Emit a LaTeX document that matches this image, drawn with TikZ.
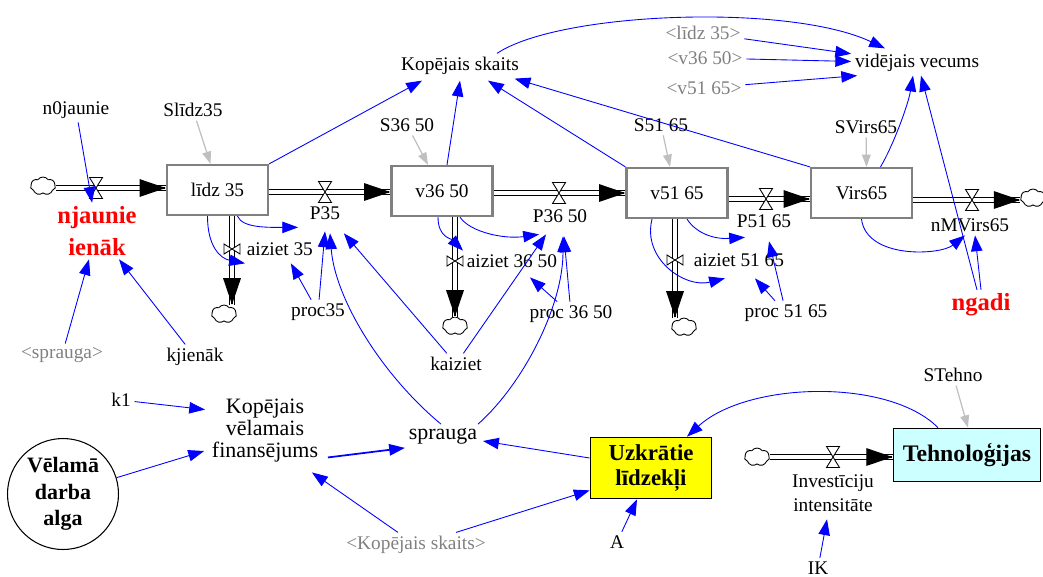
\documentclass[tikz,border=0pt]{standalone}
\usepackage{fontspec}
\setmainfont{Liberation Serif}
\usepackage{tikz}
\usetikzlibrary{positioning,calc,arrows.meta,shapes.symbols}
\definecolor{color-link}{rgb}{0,0,1}
\definecolor{color-stock}{rgb}{0.5,0.5,0.5}
\definecolor{color-shadow}{rgb}{0.5,0.5,0.5}
\definecolor{color-ghost}{rgb}{0.75,0.75,0.75}
\definecolor{color-alert}{rgb}{1,0,0}
\definecolor{color-money}{rgb}{1,1,0}
\definecolor{color-tech}{rgb}{0.8,1,1}

\tikzset{
  varname/.style={inner sep=2pt, align=center},
  bigname/.style={varname, font=\fontsize{12.5}{12.5}\selectfont},
  shadowname/.style={varname, text=color-shadow},
  alertname/.style={varname, text=color-alert, font=\bfseries\fontsize{14}{18}\selectfont},
  stockbox/.style={draw=color-stock, line width=1.3pt, minimum width=2.02cm, minimum height=1cm, inner sep=0pt},
  infolink/.style={color-link, line width=0.5pt, -{Triangle[length=9pt,width=6.5pt]}},
  ghostlink/.style={color-ghost, line width=0.7pt, -{Triangle[length=7pt,width=5pt]}},
  flowpipe/.style={draw=black, double=white, double distance=1.8pt, line width=0.7pt},
  flowtip/.style={black, line width=0.7pt, -{Triangle[length=15pt,width=10pt]}},
  sourcecloud/.style={cloud, cloud puffs=7, cloud puff arc=110, aspect=1.5, draw, line width=0.5pt, fill=white, inner sep=0pt, minimum width=0.5cm, minimum height=0.36cm},
  valveh/.pic={\draw[fill=white, line width=0.5pt] (-6.5,-10.5) -- (6.5,-10.5) -- (-6.5,10.5) -- (6.5,10.5) -- cycle;},
  valvev/.pic={\draw[fill=white, line width=0.5pt] (-8,-5) -- (-8,5) -- (8,-5) -- (8,5) -- cycle;}
}

\begin{document}
\begin{tikzpicture}[x=0.02cm, y=-0.02cm, font=\fontsize{11}{13}\selectfont]
\useasboundingbox (0,0) rectangle (1043,576);

% stocks
\node [stockbox, name=lidz35] at (217.5,190) {līdz 35};
\node [stockbox, name=v3650] at (442,191) {v36 50};
\node [stockbox, name=v5165] at (677,193) {v51 65};
\node [stockbox, name=virs65] at (861.5,193) {Virs65};
\node [name=uzkr, draw=black, line width=1pt, fill=color-money,
minimum width=2.42cm, minimum height=1.22cm, align=center,
font=\bfseries\fontsize{13}{14.7}\selectfont] at (651,468) {Uzkrātie\\līdzekļi};
\node [name=tehno, draw=black, line width=1pt, fill=color-tech,
minimum width=2.94cm, minimum height=1.06cm,
font=\bfseries\fontsize{13.5}{15}\selectfont] at (967,455) {Tehnoloģijas};
\node [name=velama, circle, draw=black, line width=0.6pt,
minimum size=2.22cm, inner sep=0pt, align=center,
font=\bfseries\fontsize{12.5}{15}\selectfont] at (63,494) {Vēlamā\\darba\\alga};

% valves
\coordinate (vnj) at (96,188);
\coordinate (vp35) at (325,192);
\coordinate (vp3650) at (559,193);
\coordinate (vp5165) at (766,199);
\coordinate (vnm) at (972,200);
\coordinate (va35) at (232,249);
\coordinate (va3650) at (455,261);
\coordinate (va5165) at (675,260);
\coordinate (vinv) at (833,457);

% clouds
\node [sourcecloud, name=cloudnj] at (43,186) {};
\node [sourcecloud, name=cloud35] at (224,314) {};
\node [sourcecloud, name=cloud3650] at (455,326) {};
\node [sourcecloud, name=cloud5165] at (684,327) {};
\node [sourcecloud, name=cloudnm] at (1033,198) {};
\node [sourcecloud, name=cloudinv] at (757,457) {};

% flows
\draw[flowpipe] (cloudnj.east |- vnj) -- (lidz35.west |- vnj);
\draw[flowtip] ($(lidz35.west |- vnj)+(-1,0)$) -- (lidz35.west |- vnj);
\draw[flowpipe] (lidz35.east |- vp35) -- (v3650.west |- vp35);
\draw[flowtip] ($(v3650.west |- vp35)+(-1,0)$) -- (v3650.west |- vp35);
\draw[flowpipe] (v3650.east |- vp3650) -- (v5165.west |- vp3650);
\draw[flowtip] ($(v5165.west |- vp3650)+(-1,0)$) -- (v5165.west |- vp3650);
\draw[flowpipe] (v5165.east |- vp5165) -- (virs65.west |- vp5165);
\draw[flowtip] ($(virs65.west |- vp5165)+(-1,0)$) -- (virs65.west |- vp5165);
\draw[flowpipe] (virs65.east |- vnm) -- (cloudnm.west |- vnm);
\draw[flowtip] ($(cloudnm.west |- vnm)+(-1,0)$) -- (cloudnm.west |- vnm);
\draw[flowpipe] (lidz35.south -| va35) -- (cloud35.north -| va35);
\draw[flowtip] ($(cloud35.north -| va35)+(0,-1)$) -- (cloud35.north -| va35);
\draw[flowpipe] (v3650.south -| va3650) -- (cloud3650.north -| va3650);
\draw[flowtip] ($(cloud3650.north -| va3650)+(0,-1)$) -- (cloud3650.north -| va3650);
\draw[flowpipe] (v5165.south -| va5165) -- (cloud5165.north -| va5165);
\draw[flowtip] ($(cloud5165.north -| va5165)+(0,-1)$) -- (cloud5165.north -| va5165);
\draw[flowpipe] (cloudinv.east |- vinv) -- (tehno.west |- vinv);
\draw[flowtip] ($(tehno.west |- vinv)+(-1,0)$) -- (tehno.west |- vinv);

\pic at (vnj) {valveh};
\pic at (vp35) {valveh};
\pic at (vp3650) {valveh};
\pic at (vp5165) {valveh};
\pic at (vnm) {valveh};
\pic at (vinv) {valveh};
\pic at (va35) {valvev};
\pic at (va3650) {valvev};
\pic at (va5165) {valvev};

% rates
\node [alertname, name=njaunie] at (97,231) {njaunie\\ienāk};
\node [varname, name=p35] at (325,213) {P35};
\node [varname, name=p3650] at (560,216) {P36 50};
\node [varname, name=p5165] at (764,221) {P51 65};
\node [varname, name=nmvirs] at (970,225) {nMVirs65};
\node [varname, name=aiziet35, anchor=west] at (243,249) {aiziet 35};
\node [varname, name=aiziet3650, anchor=west] at (463,261) {aiziet 36 50};
\node [varname, name=aiziet5165, anchor=west] at (690,260) {aiziet 51 65};
\node [varname, name=invest, font=\fontsize{11}{13.6}\selectfont] at (833,493) {Investīciju\\intensitāte};

% auxiliaries
\node [varname, name=n0jaunie] at (76,110) {n0jaunie};
\node [varname, name=slidz] at (193,110) {Slīdz35};
\node [varname, name=s3650] at (407,125) {S36 50};
\node [varname, name=s5165] at (661,125) {S51 65};
\node [varname, name=svirs65] at (866,127) {SVirs65};
\node [varname, name=kopskaits] at (460,66) {Kopējais skaits};
\node [varname, name=videjais] at (917,63) {vidējais vecums};
\node [shadowname, name=lidzshadow] at (703,33) {<līdz 35>};
\node [shadowname, name=v36shadow] at (705,58) {<v36 50>};
\node [shadowname, name=v51shadow] at (704,88) {<v51 65>};
\node [shadowname, name=sprshadow] at (62,355) {<sprauga>};
\node [varname, name=kjienak] at (195,357) {kjienāk};
\node [varname, name=proc35] at (318,312) {proc35};
\node [varname, name=kaiziet] at (456,364) {kaiziet};
\node [varname, name=proc3650] at (571,314) {proc 36 50};
\node [varname, name=proc5165] at (786,313) {proc 51 65};
\node [alertname, name=ngadi] at (981,305) {ngadi};
\node [varname, name=k1] at (121,400) {k1};
\node [bigname, name=kvf] at (265,431) {Kopējais\\vēlamais\\finansējums};
\node [bigname, name=sprauga] at (443,436) {sprauga};
\node [shadowname, name=kopshadow] at (416,545) {<Kopējais skaits>};
\node [varname, name=aconst] at (617,542) {A};
\node [varname, name=ik] at (818,568) {IK};
\node [varname, name=stehno] at (953,375) {STehno};

% initial values
\draw[ghostlink] (slidz) -- ($(lidz35.north)+(-7,0)$);
\draw[ghostlink] (s3650) -- ($(v3650.north)+(-14,0)$);
\draw[ghostlink] (s5165) -- ($(v5165.north)+(-7,0)$);
\draw[ghostlink] (svirs65) -- ($(virs65.north)+(5,0)$);
\draw[ghostlink] (stehno) -- ($(tehno.north)+(1,0)$);

% links, top row
\draw[infolink] (n0jaunie) -- (njaunie);
\draw[infolink] (sprshadow) -- (njaunie);
\draw[infolink] (kjienak) -- (njaunie);
\draw[infolink] (lidz35.north east) -- ($(kopskaits.south)+(-38,2)$);
\draw[infolink] ($(v3650.north)+(5,0)$) -- ($(kopskaits.south)+(0,2)$);
\draw[infolink] (v5165.north west) -- ($(kopskaits.south)+(28,2)$);
\draw[infolink] (virs65.north west) -- ($(kopskaits.south east)+(-8,0)$);
\draw[infolink] ($(kopskaits.north)+(37,0)$) .. controls +(63,-42) and +(-95,-45) .. ($(videjais.north)+(-32,-2)$);
\draw[infolink] (lidzshadow) -- (videjais);
\draw[infolink] (v36shadow) -- (videjais);
\draw[infolink] (v51shadow) -- ($(videjais.south west)+(6,0)$);
\draw[infolink] ($(virs65.north)+(19,0)$) .. controls +(12,-20) and +(-5,30) .. ($(videjais.south)+(-4,0)$);
\draw[infolink] ($(ngadi.north)+(-4,0)$) -- ($(videjais.south)+(4,0)$);
\draw[infolink] (ngadi.north) -- ($(nmvirs.south)+(5,0)$);
\draw[infolink] (virs65.south) .. controls +(5,40) and +(-25,20) .. ($(nmvirs.south)+(-5,0)$);

% links to the rates
\draw[infolink] ($(lidz35.south)+(20,0)$) .. controls +(5,12) and +(-30,0) .. ($(p35.south west)+(-8,4)$);
\draw[infolink] ($(lidz35.south)+(-10,0)$) .. controls +(0,30) and +(-25,-5) .. ($(aiziet35.south west)+(2,4)$);
\draw[infolink] (proc35) -- ($(aiziet35.south)+(11,4)$);
\draw[infolink] (proc35) -- ($(p35.south)+(0,8)$);
\draw[infolink] ($(sprauga.north)+(-2,0)$) .. controls +(-60,-50) and +(5,65) .. ($(p35.south)+(5,10)$);
\draw[infolink] (kaiziet) -- ($(p35.south east)+(0,10)$);
\draw[infolink] (kaiziet) -- ($(p3650.south)+(-14,8)$);
\draw[infolink] ($(sprauga.north)+(35,0)$) .. controls +(45,-40) and +(0,70) .. ($(p3650.south)+(3,10)$);
\draw[infolink] (proc3650) -- ($(p3650.south)+(4,10)$);
\draw[infolink] (proc3650) -- ($(aiziet3650.south)+(18,6)$);
\draw[infolink] ($(v3650.south)+(18,0)$) .. controls +(10,15) and +(-35,5) .. ($(p3650.south west)+(10,8)$);
\draw[infolink] ($(v3650.south)+(-4,0)$) .. controls +(0,20) and +(-12,-12) .. (aiziet3650.north west);
\draw[infolink] ($(v5165.south)+(10,0)$) .. controls +(10,15) and +(-30,2) .. ($(p5165.south west)+(12,6)$);
\draw[infolink] ($(v5165.south)+(-25,0)$) .. controls +(-10,40) and +(-40,10) .. ($(aiziet5165.south)+(-14,8)$);
\draw[infolink] (proc5165) -- ($(p5165.south)+(5,10)$);
\draw[infolink] (proc5165) -- ($(aiziet5165.south)+(16,8)$);

% links, bottom row
\draw[infolink] (k1) -- ($(kvf.north west)+(-3,14)$);
\draw[infolink] (velama) -- ($(kvf.west)+(-4,20)$);
\draw[infolink, line width=1pt] ($(kvf.south east)+(6,-9)$) -- (sprauga.south west);
\draw[infolink] (kopshadow) -- ($(kvf.south east)+(-10,6)$);
\draw[infolink] (kopshadow) -- ($(uzkr.south west)+(0,-9)$);
\draw[infolink] ($(uzkr.west)+(0,-10)$) -- ($(sprauga.east)+(2,5)$);
\draw[infolink] (aconst) -- ($(uzkr.south)+(-14,0)$);
\draw[infolink] (ik) -- ($(invest.south)+(-6,4)$);
\draw[infolink] ($(tehno.north)+(-29,0)$) .. controls +(-50,-50) and +(60,-55) .. ($(uzkr.north)+(36,0)$);

\end{tikzpicture}
\end{document}
